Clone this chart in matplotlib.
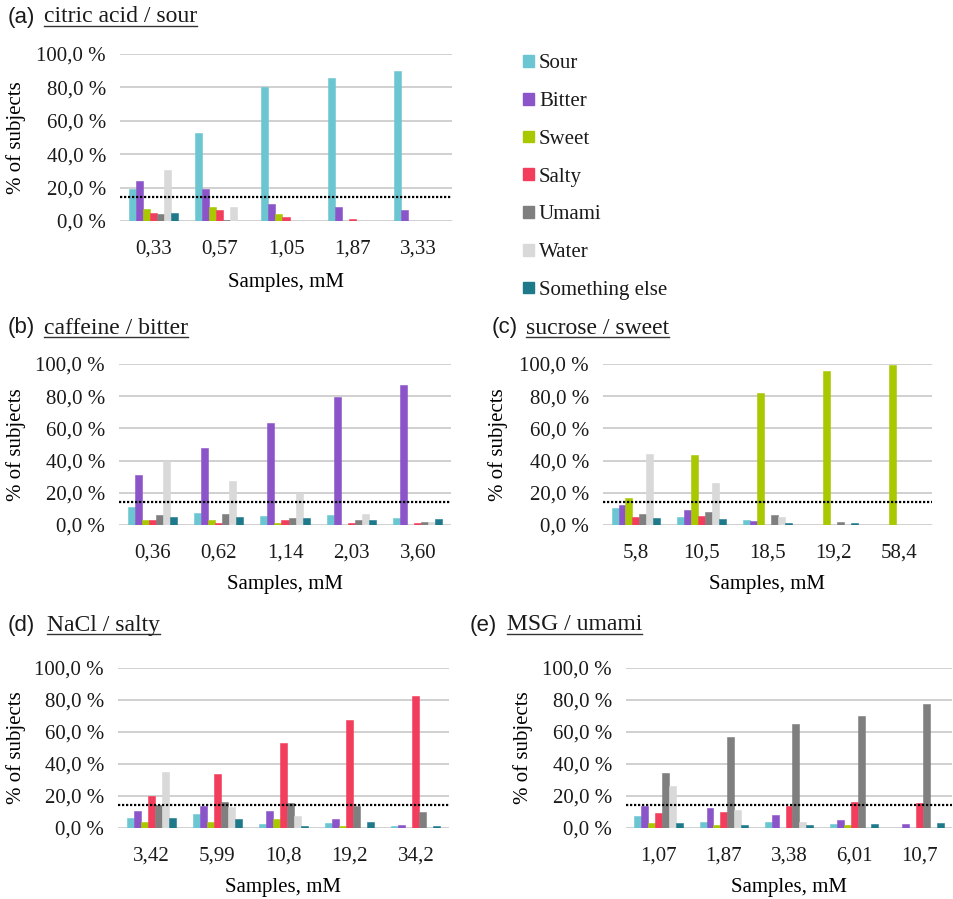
"""
Taste recognition per sample concentration, five tastants.
"""

import numpy as np
import matplotlib.pyplot as plt
from matplotlib.lines import Line2D
from matplotlib.patches import Patch

plt.rcParams['font.family'] = 'serif'
plt.rcParams['font.serif'] = ['Liberation Serif', 'DejaVu Serif']
plt.rcParams['font.size'] = 15
plt.rcParams['text.color'] = '#1a1a1a'
plt.rcParams['xtick.color'] = '#1a1a1a'
plt.rcParams['ytick.color'] = '#1a1a1a'

W, H = 954, 899

tastes = ['Sour', 'Bitter', 'Sweet', 'Salty', 'Umami', 'Water', 'Something else']
taste_colors = ['#6CC6D2', '#8B55C9', '#A9C800', '#F23E5C', '#7F7F7F', '#D9D9D9', '#1E7A8B']

# rows follow `tastes`, columns follow the concentrations
citric_conc = ['0,33', '0,57', '1,05', '1,87', '3,33']
citric_values = [
    [19.0, 52.6, 80.2, 85.8, 90.0],
    [24.2, 19.0, 10.0, 8.4, 6.4],
    [7.0, 8.4, 4.4, 0.0, 0.0],
    [5.0, 6.4, 2.4, 1.2, 0.0],
    [4.2, 0.8, 0.0, 0.0, 0.0],
    [30.6, 8.4, 0.0, 0.0, 0.0],
    [5.0, 0.0, 0.0, 0.0, 0.0],
]

caffeine_conc = ['0,36', '0,62', '1,14', '2,03', '3,60']
caffeine_values = [
    [11.2, 7.6, 5.4, 6.2, 4.1],
    [31.2, 47.7, 63.2, 79.8, 86.8],
    [3.3, 3.3, 1.2, 0.0, 0.0],
    [3.3, 1.2, 3.3, 1.2, 1.2],
    [6.2, 6.8, 4.1, 3.3, 2.0],
    [39.5, 27.5, 20.0, 6.8, 2.0],
    [4.8, 4.8, 4.1, 3.3, 3.5],
]

sucrose_conc = ['5,8', '10,5', '18,5', '19,2', '58,4']
sucrose_values = [
    [10.5, 4.8, 3.3, 0.0, 0.0],
    [12.6, 9.1, 2.7, 0.0, 0.0],
    [16.7, 43.6, 82.0, 95.5, 99.2],
    [4.8, 5.6, 0.0, 0.0, 0.0],
    [6.8, 8.3, 6.2, 2.0, 0.0],
    [44.2, 26.2, 4.8, 0.0, 0.0],
    [4.1, 3.5, 1.2, 1.2, 0.0],
]

nacl_conc = ['3,42', '5,99', '10,8', '19,2', '34,2']
nacl_values = [
    [6.0, 9.0, 2.7, 3.3, 1.3],
    [10.6, 13.6, 10.6, 5.4, 1.7],
    [4.0, 4.0, 5.4, 1.3, 0.0],
    [20.0, 33.8, 53.2, 67.6, 82.7],
    [14.2, 16.0, 15.6, 13.8, 9.8],
    [35.0, 13.0, 7.7, 0.0, 0.0],
    [6.0, 5.4, 1.3, 4.0, 1.3],
]

msg_conc = ['1,07', '1,87', '3,38', '6,01', '10,7']
msg_values = [
    [7.5, 4.0, 4.0, 2.7, 0.0],
    [13.8, 12.5, 8.4, 4.8, 2.7],
    [3.3, 1.9, 0.0, 1.9, 0.0],
    [9.2, 10.0, 13.8, 16.3, 15.9],
    [34.2, 56.6, 65.3, 69.7, 77.7],
    [26.3, 11.3, 4.0, 0.0, 0.0],
    [3.3, 1.9, 1.9, 2.7, 3.3],
]

chance_level = 100 / 7
y_ticks = [0, 20, 40, 60, 80, 100]


def px_axes(fig, left, right, top, bottom):
    """Add axes from pixel box (origin top-left)."""
    return fig.add_axes([left / W, 1 - bottom / H, (right - left) / W, (bottom - top) / H])


def draw_panel(fig, box, conc, values):
    ax = px_axes(fig, *box)
    x = np.arange(len(conc))
    n = len(tastes)
    width = 0.74 / n
    for i, (vals, color) in enumerate(zip(values, taste_colors)):
        ax.bar(x + (i - (n - 1) / 2) * width, vals, width=width, color=color,
               edgecolor=color, linewidth=0.4, zorder=3)

    ax.axhline(chance_level, color='black', linestyle=(0, (1, 0.8)), linewidth=1.6, zorder=4)

    ax.set_xlim(-0.5, len(conc) - 0.5)
    ax.set_ylim(0, 100)
    ax.set_yticks(y_ticks)
    ax.set_yticklabels([f'{t},0 %' for t in y_ticks])
    ax.set_xticks(x)
    ax.set_xticklabels(conc)
    ax.tick_params(length=0)
    ax.tick_params(axis='y', pad=10)
    ax.tick_params(axis='x', pad=13)
    ax.grid(True, axis='y', color='#D0D0D0', linewidth=1.4, zorder=0)
    ax.set_axisbelow(True)
    for s in ax.spines.values():
        s.set_visible(False)

    ax.set_xlabel('Samples, mM')
    ax.xaxis.set_label_coords(0.5, -0.31)
    ax.set_ylabel('% of subjects')
    return ax


def panel_title(fig, x_tag, x_name, y, tag, name):
    fig.text(x_tag / W, 1 - y / H, tag, family='Liberation Sans', fontsize=16, va='center')
    t = fig.text(x_name / W, 1 - y / H, name, fontsize=17, va='center')
    return t


def underline(fig, texts):
    fig.canvas.draw()
    r = fig.canvas.get_renderer()
    for t in texts:
        bb = t.get_window_extent(r)
        yy = bb.y0 + 2
        fig.add_artist(Line2D([bb.x0 / W, bb.x1 / W], [yy / H, yy / H],
                              color='#333333', linewidth=1.0, transform=fig.transFigure))


if __name__ == '__main__':
    fig = plt.figure(figsize=(W / 100, H / 100), dpi=100)
    fig.patch.set_facecolor('white')

    axes = [
        draw_panel(fig, (120, 452, 54, 221), citric_conc, citric_values),
        draw_panel(fig, (119, 451, 364, 525), caffeine_conc, caffeine_values),
        draw_panel(fig, (603, 932, 364, 525), sucrose_conc, sucrose_values),
        draw_panel(fig, (118, 449, 668, 828), nacl_conc, nacl_values),
        draw_panel(fig, (626, 952, 668, 828), msg_conc, msg_values),
    ]
    # x of the right-hand edge of each rotated y label, in pixels
    ylabel_x = [26, 26, 508, 26, 533]
    for ax, lx in zip(axes, ylabel_x):
        pos = ax.get_position()
        ax.yaxis.set_label_coords((lx / W - pos.x0) / pos.width, 0.5)

    titles = [
        panel_title(fig, 8, 44, 17, '(a)', 'citric acid / sour'),
        panel_title(fig, 8, 44, 328, '(b)', 'caffeine / bitter'),
        panel_title(fig, 492, 526, 328, '(c)', 'sucrose / sweet'),
        panel_title(fig, 8, 47, 625, '(d)', 'NaCl / salty'),
        panel_title(fig, 470, 507, 625, '(e)', 'MSG / umami'),
    ]
    underline(fig, titles)

    handles = [Patch(facecolor=c, edgecolor=c) for c in taste_colors]
    fig.legend(handles, tastes, loc='upper left', bbox_to_anchor=(515 / W, 1 - 46 / H),
               frameon=False, fontsize=15, handlelength=0.5, handleheight=0.5,
               handletextpad=0.25, labelspacing=0.9, borderaxespad=0)

    fig.savefig('out.png', dpi=100, facecolor='white')
